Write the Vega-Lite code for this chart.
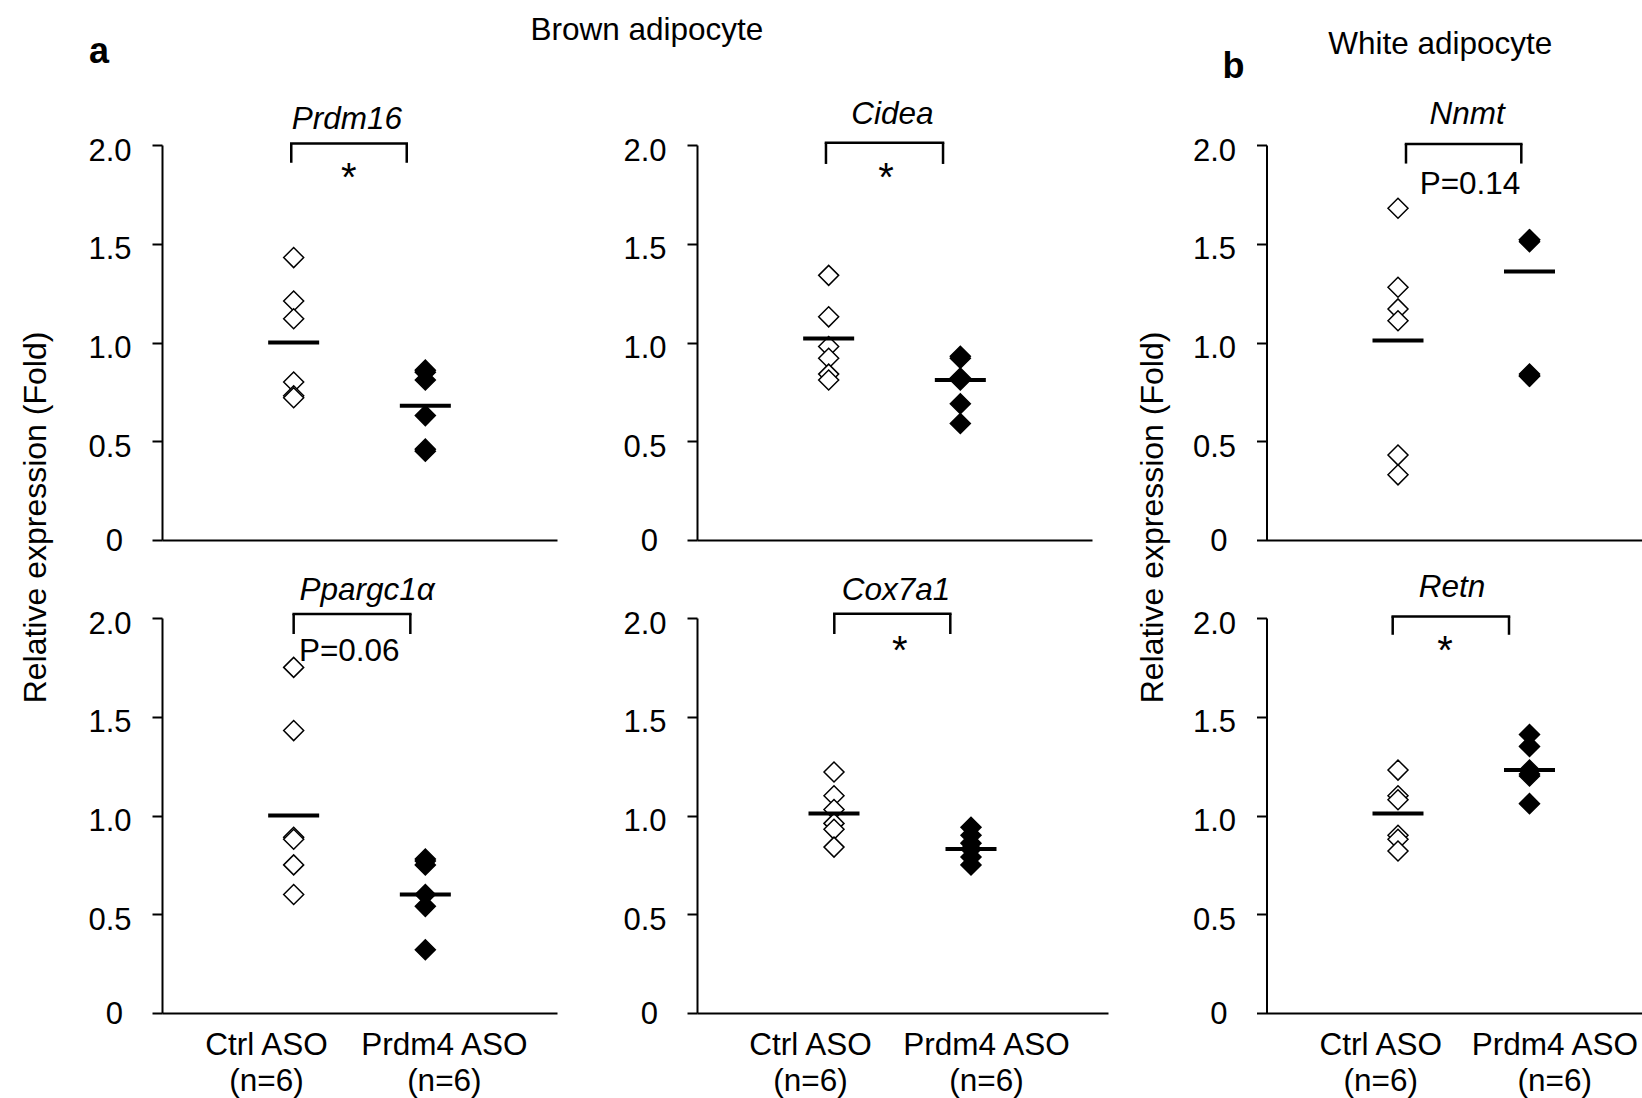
{
  "$schema": "https://vega.github.io/schema/vega-lite/v6.json",
  "background": "white",
  "padding": {"left": 18, "top": 14, "right": 0, "bottom": 0},
  "datasets": {
    "points": [
      {"gene": "Prdm16", "group": "Ctrl ASO", "value": 1.43},
      {"gene": "Prdm16", "group": "Ctrl ASO", "value": 1.21},
      {"gene": "Prdm16", "group": "Ctrl ASO", "value": 1.12},
      {"gene": "Prdm16", "group": "Ctrl ASO", "value": 0.80},
      {"gene": "Prdm16", "group": "Ctrl ASO", "value": 0.73},
      {"gene": "Prdm16", "group": "Ctrl ASO", "value": 0.72},
      {"gene": "Prdm16", "group": "Prdm4 ASO", "value": 0.86},
      {"gene": "Prdm16", "group": "Prdm4 ASO", "value": 0.85},
      {"gene": "Prdm16", "group": "Prdm4 ASO", "value": 0.81},
      {"gene": "Prdm16", "group": "Prdm4 ASO", "value": 0.63},
      {"gene": "Prdm16", "group": "Prdm4 ASO", "value": 0.46},
      {"gene": "Prdm16", "group": "Prdm4 ASO", "value": 0.45},
      {"gene": "Cidea", "group": "Ctrl ASO", "value": 1.34},
      {"gene": "Cidea", "group": "Ctrl ASO", "value": 1.13},
      {"gene": "Cidea", "group": "Ctrl ASO", "value": 0.98},
      {"gene": "Cidea", "group": "Ctrl ASO", "value": 0.92},
      {"gene": "Cidea", "group": "Ctrl ASO", "value": 0.84},
      {"gene": "Cidea", "group": "Ctrl ASO", "value": 0.81},
      {"gene": "Cidea", "group": "Prdm4 ASO", "value": 0.93},
      {"gene": "Cidea", "group": "Prdm4 ASO", "value": 0.92},
      {"gene": "Cidea", "group": "Prdm4 ASO", "value": 0.82},
      {"gene": "Cidea", "group": "Prdm4 ASO", "value": 0.81},
      {"gene": "Cidea", "group": "Prdm4 ASO", "value": 0.69},
      {"gene": "Cidea", "group": "Prdm4 ASO", "value": 0.59},
      {"gene": "Nnmt", "group": "Ctrl ASO", "value": 1.68},
      {"gene": "Nnmt", "group": "Ctrl ASO", "value": 1.28},
      {"gene": "Nnmt", "group": "Ctrl ASO", "value": 1.17},
      {"gene": "Nnmt", "group": "Ctrl ASO", "value": 1.11},
      {"gene": "Nnmt", "group": "Ctrl ASO", "value": 0.43},
      {"gene": "Nnmt", "group": "Ctrl ASO", "value": 0.33},
      {"gene": "Nnmt", "group": "Prdm4 ASO", "value": 1.52},
      {"gene": "Nnmt", "group": "Prdm4 ASO", "value": 1.52},
      {"gene": "Nnmt", "group": "Prdm4 ASO", "value": 1.51},
      {"gene": "Nnmt", "group": "Prdm4 ASO", "value": 0.84},
      {"gene": "Nnmt", "group": "Prdm4 ASO", "value": 0.83},
      {"gene": "Nnmt", "group": "Prdm4 ASO", "value": 0.83},
      {"gene": "Ppargc1a", "group": "Ctrl ASO", "value": 1.75},
      {"gene": "Ppargc1a", "group": "Ctrl ASO", "value": 1.43},
      {"gene": "Ppargc1a", "group": "Ctrl ASO", "value": 0.89},
      {"gene": "Ppargc1a", "group": "Ctrl ASO", "value": 0.88},
      {"gene": "Ppargc1a", "group": "Ctrl ASO", "value": 0.75},
      {"gene": "Ppargc1a", "group": "Ctrl ASO", "value": 0.60},
      {"gene": "Ppargc1a", "group": "Prdm4 ASO", "value": 0.78},
      {"gene": "Ppargc1a", "group": "Prdm4 ASO", "value": 0.77},
      {"gene": "Ppargc1a", "group": "Prdm4 ASO", "value": 0.75},
      {"gene": "Ppargc1a", "group": "Prdm4 ASO", "value": 0.60},
      {"gene": "Ppargc1a", "group": "Prdm4 ASO", "value": 0.54},
      {"gene": "Ppargc1a", "group": "Prdm4 ASO", "value": 0.32},
      {"gene": "Cox7a1", "group": "Ctrl ASO", "value": 1.22},
      {"gene": "Cox7a1", "group": "Ctrl ASO", "value": 1.10},
      {"gene": "Cox7a1", "group": "Ctrl ASO", "value": 1.03},
      {"gene": "Cox7a1", "group": "Ctrl ASO", "value": 0.96},
      {"gene": "Cox7a1", "group": "Ctrl ASO", "value": 0.93},
      {"gene": "Cox7a1", "group": "Ctrl ASO", "value": 0.84},
      {"gene": "Cox7a1", "group": "Prdm4 ASO", "value": 0.94},
      {"gene": "Cox7a1", "group": "Prdm4 ASO", "value": 0.90},
      {"gene": "Cox7a1", "group": "Prdm4 ASO", "value": 0.86},
      {"gene": "Cox7a1", "group": "Prdm4 ASO", "value": 0.83},
      {"gene": "Cox7a1", "group": "Prdm4 ASO", "value": 0.79},
      {"gene": "Cox7a1", "group": "Prdm4 ASO", "value": 0.75},
      {"gene": "Retn", "group": "Ctrl ASO", "value": 1.23},
      {"gene": "Retn", "group": "Ctrl ASO", "value": 1.10},
      {"gene": "Retn", "group": "Ctrl ASO", "value": 1.08},
      {"gene": "Retn", "group": "Ctrl ASO", "value": 0.90},
      {"gene": "Retn", "group": "Ctrl ASO", "value": 0.88},
      {"gene": "Retn", "group": "Ctrl ASO", "value": 0.82},
      {"gene": "Retn", "group": "Prdm4 ASO", "value": 1.41},
      {"gene": "Retn", "group": "Prdm4 ASO", "value": 1.35},
      {"gene": "Retn", "group": "Prdm4 ASO", "value": 1.23},
      {"gene": "Retn", "group": "Prdm4 ASO", "value": 1.21},
      {"gene": "Retn", "group": "Prdm4 ASO", "value": 1.20},
      {"gene": "Retn", "group": "Prdm4 ASO", "value": 1.06}
    ],
    "means": [
      {"gene": "Prdm16", "group": "Ctrl ASO", "mean": 1.00},
      {"gene": "Prdm16", "group": "Prdm4 ASO", "mean": 0.68},
      {"gene": "Cidea", "group": "Ctrl ASO", "mean": 1.02},
      {"gene": "Cidea", "group": "Prdm4 ASO", "mean": 0.81},
      {"gene": "Nnmt", "group": "Ctrl ASO", "mean": 1.01},
      {"gene": "Nnmt", "group": "Prdm4 ASO", "mean": 1.36},
      {"gene": "Ppargc1a", "group": "Ctrl ASO", "mean": 1.00},
      {"gene": "Ppargc1a", "group": "Prdm4 ASO", "mean": 0.60},
      {"gene": "Cox7a1", "group": "Ctrl ASO", "mean": 1.01},
      {"gene": "Cox7a1", "group": "Prdm4 ASO", "mean": 0.83},
      {"gene": "Retn", "group": "Ctrl ASO", "mean": 1.01},
      {"gene": "Retn", "group": "Prdm4 ASO", "mean": 1.23}
    ],
    "sig": [
      {"gene": "Prdm16", "label": "*"},
      {"gene": "Cidea", "label": "*"},
      {"gene": "Nnmt", "label": "P=0.14"},
      {"gene": "Ppargc1a", "label": "P=0.06"},
      {"gene": "Cox7a1", "label": "*"},
      {"gene": "Retn", "label": "*"}
    ]
  },
  "columns": 3,
  "spacing": {"row": 78, "column": 140},
  "bounds": "flush",
  "concat": [
    {
      "width": 395, "height": 395,
      "layer": [
        {"data": {"name": "points"}, "transform": [{"filter": "datum.gene === 'Prdm16'"}],
         "mark": {"type": "point", "shape": "diamond", "size": 400, "filled": true, "stroke": "black", "strokeWidth": 1.5, "opacity": 1},
         "encoding": {
           "x": {"field": "group", "type": "nominal", "scale": {"type": "point", "domain": ["Ctrl ASO", "Prdm4 ASO"], "padding": 1},
                 "axis": {"title": "Prdm16", "labels": false, "ticks": false, "tickSize": 0, "titleX": 129.3, "titleY": -411.5, "titleAlign": "left", "titleBaseline": "alphabetic", "titleAngle": 0, "titleFontSize": 31.5, "titleFontStyle": "italic"}},
           "y": {"field": "value", "type": "quantitative", "scale": {"domain": [0, 2], "nice": false},
                 "axis": {"values": [0, 0.5, 1, 1.5, 2], "labelExpr": "datum.value == 0 ? '0' : format(datum.value, '.1f')", "tickSize": 10,
                          "labelPadding": {"condition": {"test": "datum.value == 0", "value": 29.5}, "value": 21},
                          "labelOffset": {"condition": {"test": "datum.value == 0", "value": 10}, "value": 15},
                          "labelBaseline": "alphabetic",
                          "title": "a", "titleX": -73.5, "titleY": -82.6, "titleAngle": 0, "titleAlign": "left", "titleBaseline": "alphabetic", "titleFontSize": 36, "titleFontWeight": "bold"}},
           "fill": {"field": "group", "type": "nominal", "scale": {"domain": ["Ctrl ASO", "Prdm4 ASO"], "range": ["white", "black"]}, "legend": null}
         }},
        {"data": {"name": "means"}, "transform": [{"filter": "datum.gene === 'Prdm16'"}],
         "mark": {"type": "tick", "color": "black", "size": 51, "thickness": 4, "opacity": 1},
         "encoding": {"x": {"field": "group", "type": "nominal"}, "y": {"field": "mean", "type": "quantitative"}}},
        {"data": {"name": "sig"}, "transform": [{"filter": "datum.gene === 'Prdm16'"}],
         "mark": {"type": "rule", "color": "black", "strokeWidth": 2.5, "strokeCap": "square", "xOffset": -2.4, "x2Offset": -18.6},
         "encoding": {"x": {"datum": "Ctrl ASO", "type": "nominal"}, "x2": {"datum": "Prdm4 ASO"}, "y": {"datum": 2.007, "type": "quantitative"}}},
        {"data": {"name": "sig"}, "transform": [{"filter": "datum.gene === 'Prdm16'"}],
         "mark": {"type": "rule", "color": "black", "strokeWidth": 2.5, "xOffset": -2.4},
         "encoding": {"x": {"datum": "Ctrl ASO", "type": "nominal"}, "y": {"datum": 2.007, "type": "quantitative"}, "y2": {"datum": 1.91}}},
        {"data": {"name": "sig"}, "transform": [{"filter": "datum.gene === 'Prdm16'"}],
         "mark": {"type": "rule", "color": "black", "strokeWidth": 2.5, "xOffset": -18.6},
         "encoding": {"x": {"datum": "Prdm4 ASO", "type": "nominal"}, "y": {"datum": 2.007, "type": "quantitative"}, "y2": {"datum": 1.91}}},
        {"data": {"name": "sig"}, "transform": [{"filter": "datum.gene === 'Prdm16'"}],
         "mark": {"type": "text", "dx": 55, "align": "center", "baseline": "alphabetic", "fontSize": 40, "color": "black"},
         "encoding": {"x": {"datum": "Ctrl ASO", "type": "nominal"}, "y": {"datum": 1.765, "type": "quantitative"}, "text": {"field": "label"}}}
      ]
    },
    {
      "width": 395, "height": 395,
      "layer": [
        {"data": {"name": "points"}, "transform": [{"filter": "datum.gene === 'Cidea'"}],
         "mark": {"type": "point", "shape": "diamond", "size": 400, "filled": true, "stroke": "black", "strokeWidth": 1.5, "opacity": 1},
         "encoding": {
           "x": {"field": "group", "type": "nominal", "scale": {"type": "point", "domain": ["Ctrl ASO", "Prdm4 ASO"], "padding": 1},
                 "axis": {"title": "Cidea", "labels": false, "ticks": false, "tickSize": 0, "titleX": 153.7, "titleY": -416.7, "titleAlign": "left", "titleBaseline": "alphabetic", "titleAngle": 0, "titleFontSize": 31.5, "titleFontStyle": "italic"}},
           "y": {"field": "value", "type": "quantitative", "scale": {"domain": [0, 2], "nice": false},
                 "axis": {"values": [0, 0.5, 1, 1.5, 2], "labelExpr": "datum.value == 0 ? '0' : format(datum.value, '.1f')", "tickSize": 10,
                          "labelPadding": {"condition": {"test": "datum.value == 0", "value": 29.5}, "value": 21},
                          "labelOffset": {"condition": {"test": "datum.value == 0", "value": 10}, "value": 15},
                          "labelBaseline": "alphabetic",
                          "title": "Brown adipocyte", "titleX": -167, "titleY": -105.5, "titleAngle": 0, "titleAlign": "left", "titleBaseline": "alphabetic", "titleFontSize": 31.5}},
           "fill": {"field": "group", "type": "nominal", "scale": {"domain": ["Ctrl ASO", "Prdm4 ASO"], "range": ["white", "black"]}, "legend": null}
         }},
        {"data": {"name": "means"}, "transform": [{"filter": "datum.gene === 'Cidea'"}],
         "mark": {"type": "tick", "color": "black", "size": 51, "thickness": 4, "opacity": 1},
         "encoding": {"x": {"field": "group", "type": "nominal"}, "y": {"field": "mean", "type": "quantitative"}}},
        {"data": {"name": "sig"}, "transform": [{"filter": "datum.gene === 'Cidea'"}],
         "mark": {"type": "rule", "color": "black", "strokeWidth": 2.5, "strokeCap": "square", "xOffset": -2.7, "x2Offset": -17.3},
         "encoding": {"x": {"datum": "Ctrl ASO", "type": "nominal"}, "x2": {"datum": "Prdm4 ASO"}, "y": {"datum": 2.012, "type": "quantitative"}}},
        {"data": {"name": "sig"}, "transform": [{"filter": "datum.gene === 'Cidea'"}],
         "mark": {"type": "rule", "color": "black", "strokeWidth": 2.5, "xOffset": -2.7},
         "encoding": {"x": {"datum": "Ctrl ASO", "type": "nominal"}, "y": {"datum": 2.012, "type": "quantitative"}, "y2": {"datum": 1.904}}},
        {"data": {"name": "sig"}, "transform": [{"filter": "datum.gene === 'Cidea'"}],
         "mark": {"type": "rule", "color": "black", "strokeWidth": 2.5, "xOffset": -17.3},
         "encoding": {"x": {"datum": "Prdm4 ASO", "type": "nominal"}, "y": {"datum": 2.012, "type": "quantitative"}, "y2": {"datum": 1.904}}},
        {"data": {"name": "sig"}, "transform": [{"filter": "datum.gene === 'Cidea'"}],
         "mark": {"type": "text", "dx": 57.3, "align": "center", "baseline": "alphabetic", "fontSize": 40, "color": "black"},
         "encoding": {"x": {"datum": "Ctrl ASO", "type": "nominal"}, "y": {"datum": 1.765, "type": "quantitative"}, "text": {"field": "label"}}}
      ]
    },
    {
      "width": 396, "height": 395,
      "layer": [
        {"data": {"name": "points"}, "transform": [{"filter": "datum.gene === 'Nnmt'"}],
         "mark": {"type": "point", "shape": "diamond", "size": 400, "filled": true, "stroke": "black", "strokeWidth": 1.5, "opacity": 1},
         "encoding": {
           "x": {"field": "group", "type": "nominal", "scale": {"type": "point", "domain": ["Ctrl ASO", "Prdm4 ASO"], "range": [18.5, 396], "padding": 0.93536, "align": 0.53455},
                 "axis": {"title": "Nnmt", "labels": false, "ticks": false, "tickSize": 0, "titleX": 181, "titleY": -416.6, "titleAlign": "left", "titleBaseline": "alphabetic", "titleAngle": 0, "titleFontSize": 31.5, "titleFontStyle": "italic"}},
           "y": {"field": "value", "type": "quantitative", "scale": {"domain": [0, 2], "nice": false},
                 "axis": {"offset": -18.5, "values": [0, 0.5, 1, 1.5, 2], "labelExpr": "datum.value == 0 ? '0' : format(datum.value, '.1f')", "tickSize": 10,
                          "labelPadding": {"condition": {"test": "datum.value == 0", "value": 29.5}, "value": 21},
                          "labelOffset": {"condition": {"test": "datum.value == 0", "value": 10}, "value": 15},
                          "labelBaseline": "alphabetic",
                          "title": "White adipocyte", "titleX": 61.2, "titleY": -91.1, "titleAngle": 0, "titleAlign": "left", "titleBaseline": "alphabetic", "titleFontSize": 31.5}},
           "fill": {"field": "group", "type": "nominal", "scale": {"domain": ["Ctrl ASO", "Prdm4 ASO"], "range": ["white", "black"]}, "legend": null}
         }},
        {"data": {"name": "means"}, "transform": [{"filter": "datum.gene === 'Nnmt'"}],
         "mark": {"type": "tick", "color": "black", "size": 51, "thickness": 4, "opacity": 1},
         "encoding": {"x": {"field": "group", "type": "nominal"}, "y": {"field": "mean", "type": "quantitative"}}},
        {"data": {"name": "sig"}, "transform": [{"filter": "datum.gene === 'Nnmt'"}],
         "mark": {"type": "rule", "color": "black", "strokeWidth": 2.5, "strokeCap": "square", "xOffset": 8, "x2Offset": -8.2},
         "encoding": {"x": {"datum": "Ctrl ASO", "type": "nominal"}, "x2": {"datum": "Prdm4 ASO"}, "y": {"datum": 2.005, "type": "quantitative"}}},
        {"data": {"name": "sig"}, "transform": [{"filter": "datum.gene === 'Nnmt'"}],
         "mark": {"type": "rule", "color": "black", "strokeWidth": 2.5, "xOffset": 8},
         "encoding": {"x": {"datum": "Ctrl ASO", "type": "nominal"}, "y": {"datum": 2.005, "type": "quantitative"}, "y2": {"datum": 1.906}}},
        {"data": {"name": "sig"}, "transform": [{"filter": "datum.gene === 'Nnmt'"}],
         "mark": {"type": "rule", "color": "black", "strokeWidth": 2.5, "xOffset": -8.2},
         "encoding": {"x": {"datum": "Prdm4 ASO", "type": "nominal"}, "y": {"datum": 2.005, "type": "quantitative"}, "y2": {"datum": 1.906}}},
        {"data": {"name": "sig"}, "transform": [{"filter": "datum.gene === 'Nnmt'"}],
         "mark": {"type": "text", "dx": 72, "align": "center", "baseline": "alphabetic", "fontSize": 31.5, "color": "black"},
         "encoding": {"x": {"datum": "Ctrl ASO", "type": "nominal"}, "y": {"datum": 1.753, "type": "quantitative"}, "text": {"field": "label"}}}
      ]
    },
    {
      "width": 395, "height": 395,
      "layer": [
        {"data": {"name": "points"}, "transform": [{"filter": "datum.gene === 'Ppargc1a'"}],
         "mark": {"type": "point", "shape": "diamond", "size": 400, "filled": true, "stroke": "black", "strokeWidth": 1.5, "opacity": 1},
         "encoding": {
           "x": {"field": "group", "type": "nominal", "scale": {"type": "point", "domain": ["Ctrl ASO", "Prdm4 ASO"], "padding": 1},
                 "axis": {"ticks": false, "tickSize": 0, "labelAngle": 0, "labelLimit": 0, "labelPadding": 41, "labelBaseline": "alphabetic", "labelLineHeight": 36.7, "labelFontSize": 31.5,
                          "labelExpr": "[datum.label, '(n=6)']",
                          "labelOffset": {"condition": {"test": "datum.value === 'Ctrl ASO'", "value": -27.7}, "value": 18.5},
                          "title": "Ppargc1α", "titleX": 137, "titleY": -413.3, "titleAlign": "left", "titleBaseline": "alphabetic", "titleAngle": 0, "titleFontSize": 31.5, "titleFontStyle": "italic"}},
           "y": {"field": "value", "type": "quantitative", "scale": {"domain": [0, 2], "nice": false},
                 "axis": {"values": [0, 0.5, 1, 1.5, 2], "labelExpr": "datum.value == 0 ? '0' : format(datum.value, '.1f')", "tickSize": 10,
                          "labelPadding": {"condition": {"test": "datum.value == 0", "value": 29.5}, "value": 21},
                          "labelOffset": {"condition": {"test": "datum.value == 0", "value": 10}, "value": 15},
                          "labelBaseline": "alphabetic",
                          "title": "Relative expression (Fold)", "titleX": -117, "titleY": -101, "titleAngle": 270, "titleAlign": "center", "titleBaseline": "alphabetic", "titleFontSize": 32}},
           "fill": {"field": "group", "type": "nominal", "scale": {"domain": ["Ctrl ASO", "Prdm4 ASO"], "range": ["white", "black"]}, "legend": null}
         }},
        {"data": {"name": "means"}, "transform": [{"filter": "datum.gene === 'Ppargc1a'"}],
         "mark": {"type": "tick", "color": "black", "size": 51, "thickness": 4, "opacity": 1},
         "encoding": {"x": {"field": "group", "type": "nominal"}, "y": {"field": "mean", "type": "quantitative"}}},
        {"data": {"name": "sig"}, "transform": [{"filter": "datum.gene === 'Ppargc1a'"}],
         "mark": {"type": "rule", "color": "black", "strokeWidth": 2.5, "strokeCap": "square", "xOffset": 0, "x2Offset": -15},
         "encoding": {"x": {"datum": "Ctrl ASO", "type": "nominal"}, "x2": {"datum": "Prdm4 ASO"}, "y": {"datum": 2.02, "type": "quantitative"}}},
        {"data": {"name": "sig"}, "transform": [{"filter": "datum.gene === 'Ppargc1a'"}],
         "mark": {"type": "rule", "color": "black", "strokeWidth": 2.5, "xOffset": 0},
         "encoding": {"x": {"datum": "Ctrl ASO", "type": "nominal"}, "y": {"datum": 2.02, "type": "quantitative"}, "y2": {"datum": 1.919}}},
        {"data": {"name": "sig"}, "transform": [{"filter": "datum.gene === 'Ppargc1a'"}],
         "mark": {"type": "rule", "color": "black", "strokeWidth": 2.5, "xOffset": -15},
         "encoding": {"x": {"datum": "Prdm4 ASO", "type": "nominal"}, "y": {"datum": 2.02, "type": "quantitative"}, "y2": {"datum": 1.919}}},
        {"data": {"name": "sig"}, "transform": [{"filter": "datum.gene === 'Ppargc1a'"}],
         "mark": {"type": "text", "dx": 55.6, "align": "center", "baseline": "alphabetic", "fontSize": 31.5, "color": "black"},
         "encoding": {"x": {"datum": "Ctrl ASO", "type": "nominal"}, "y": {"datum": 1.784, "type": "quantitative"}, "text": {"field": "label"}}}
      ]
    },
    {
      "width": 411, "height": 395,
      "layer": [
        {"data": {"name": "points"}, "transform": [{"filter": "datum.gene === 'Cox7a1'"}],
         "mark": {"type": "point", "shape": "diamond", "size": 400, "filled": true, "stroke": "black", "strokeWidth": 1.5, "opacity": 1},
         "encoding": {
           "x": {"field": "group", "type": "nominal", "scale": {"type": "point", "domain": ["Ctrl ASO", "Prdm4 ASO"], "padding": 1},
                 "axis": {"ticks": false, "tickSize": 0, "labelAngle": 0, "labelLimit": 0, "labelPadding": 41, "labelBaseline": "alphabetic", "labelLineHeight": 36.7, "labelFontSize": 31.5,
                          "labelExpr": "[datum.label, '(n=6)']",
                          "labelOffset": {"condition": {"test": "datum.value === 'Ctrl ASO'", "value": -24}, "value": 15},
                          "title": "Cox7a1", "titleX": 144.3, "titleY": -414, "titleAlign": "left", "titleBaseline": "alphabetic", "titleAngle": 0, "titleFontSize": 31.5, "titleFontStyle": "italic"}},
           "y": {"field": "value", "type": "quantitative", "scale": {"domain": [0, 2], "nice": false},
                 "axis": {"values": [0, 0.5, 1, 1.5, 2], "labelExpr": "datum.value == 0 ? '0' : format(datum.value, '.1f')", "tickSize": 10,
                          "labelPadding": {"condition": {"test": "datum.value == 0", "value": 29.5}, "value": 21},
                          "labelOffset": {"condition": {"test": "datum.value == 0", "value": 10}, "value": 15},
                          "labelBaseline": "alphabetic",
                          "title": "b", "titleX": 525, "titleY": -540.2, "titleAngle": 0, "titleAlign": "left", "titleBaseline": "alphabetic", "titleFontSize": 36, "titleFontWeight": "bold"}},
           "fill": {"field": "group", "type": "nominal", "scale": {"domain": ["Ctrl ASO", "Prdm4 ASO"], "range": ["white", "black"]}, "legend": null}
         }},
        {"data": {"name": "means"}, "transform": [{"filter": "datum.gene === 'Cox7a1'"}],
         "mark": {"type": "tick", "color": "black", "size": 51, "thickness": 4, "opacity": 1},
         "encoding": {"x": {"field": "group", "type": "nominal"}, "y": {"field": "mean", "type": "quantitative"}}},
        {"data": {"name": "sig"}, "transform": [{"filter": "datum.gene === 'Cox7a1'"}],
         "mark": {"type": "rule", "color": "black", "strokeWidth": 2.5, "strokeCap": "square", "xOffset": 0.3, "x2Offset": -20.7},
         "encoding": {"x": {"datum": "Ctrl ASO", "type": "nominal"}, "x2": {"datum": "Prdm4 ASO"}, "y": {"datum": 2.022, "type": "quantitative"}}},
        {"data": {"name": "sig"}, "transform": [{"filter": "datum.gene === 'Cox7a1'"}],
         "mark": {"type": "rule", "color": "black", "strokeWidth": 2.5, "xOffset": 0.3},
         "encoding": {"x": {"datum": "Ctrl ASO", "type": "nominal"}, "y": {"datum": 2.022, "type": "quantitative"}, "y2": {"datum": 1.919}}},
        {"data": {"name": "sig"}, "transform": [{"filter": "datum.gene === 'Cox7a1'"}],
         "mark": {"type": "rule", "color": "black", "strokeWidth": 2.5, "xOffset": -20.7},
         "encoding": {"x": {"datum": "Prdm4 ASO", "type": "nominal"}, "y": {"datum": 2.022, "type": "quantitative"}, "y2": {"datum": 1.919}}},
        {"data": {"name": "sig"}, "transform": [{"filter": "datum.gene === 'Cox7a1'"}],
         "mark": {"type": "text", "dx": 65.7, "align": "center", "baseline": "alphabetic", "fontSize": 40, "color": "black"},
         "encoding": {"x": {"datum": "Ctrl ASO", "type": "nominal"}, "y": {"datum": 1.765, "type": "quantitative"}, "text": {"field": "label"}}}
      ]
    },
    {
      "width": 396, "height": 395,
      "layer": [
        {"data": {"name": "points"}, "transform": [{"filter": "datum.gene === 'Retn'"}],
         "mark": {"type": "point", "shape": "diamond", "size": 400, "filled": true, "stroke": "black", "strokeWidth": 1.5, "opacity": 1},
         "encoding": {
           "x": {"field": "group", "type": "nominal", "scale": {"type": "point", "domain": ["Ctrl ASO", "Prdm4 ASO"], "range": [18.5, 396], "padding": 0.93536, "align": 0.53455},
                 "axis": {"ticks": false, "tickSize": 0, "labelAngle": 0, "labelLimit": 0, "labelPadding": 41, "labelBaseline": "alphabetic", "labelLineHeight": 36.7, "labelFontSize": 31.5,
                          "labelExpr": "[datum.label, '(n=6)']",
                          "labelOffset": {"condition": {"test": "datum.value === 'Ctrl ASO'", "value": -17.7}, "value": 24.8},
                          "title": "Retn", "titleX": 170.3, "titleY": -416.6, "titleAlign": "left", "titleBaseline": "alphabetic", "titleAngle": 0, "titleFontSize": 31.5, "titleFontStyle": "italic"}},
           "y": {"field": "value", "type": "quantitative", "scale": {"domain": [0, 2], "nice": false},
                 "axis": {"offset": -18.5, "values": [0, 0.5, 1, 1.5, 2], "labelExpr": "datum.value == 0 ? '0' : format(datum.value, '.1f')", "tickSize": 10,
                          "labelPadding": {"condition": {"test": "datum.value == 0", "value": 29.5}, "value": 21},
                          "labelOffset": {"condition": {"test": "datum.value == 0", "value": 10}, "value": 15},
                          "labelBaseline": "alphabetic",
                          "title": "Relative expression (Fold)", "titleX": -104.5, "titleY": -101, "titleAngle": 270, "titleAlign": "center", "titleBaseline": "alphabetic", "titleFontSize": 32}},
           "fill": {"field": "group", "type": "nominal", "scale": {"domain": ["Ctrl ASO", "Prdm4 ASO"], "range": ["white", "black"]}, "legend": null}
         }},
        {"data": {"name": "means"}, "transform": [{"filter": "datum.gene === 'Retn'"}],
         "mark": {"type": "tick", "color": "black", "size": 51, "thickness": 4, "opacity": 1},
         "encoding": {"x": {"field": "group", "type": "nominal"}, "y": {"field": "mean", "type": "quantitative"}}},
        {"data": {"name": "sig"}, "transform": [{"filter": "datum.gene === 'Retn'"}],
         "mark": {"type": "rule", "color": "black", "strokeWidth": 2.5, "strokeCap": "square", "xOffset": -5.3, "x2Offset": -20.5},
         "encoding": {"x": {"datum": "Ctrl ASO", "type": "nominal"}, "x2": {"datum": "Prdm4 ASO"}, "y": {"datum": 2.008, "type": "quantitative"}}},
        {"data": {"name": "sig"}, "transform": [{"filter": "datum.gene === 'Retn'"}],
         "mark": {"type": "rule", "color": "black", "strokeWidth": 2.5, "xOffset": -5.3},
         "encoding": {"x": {"datum": "Ctrl ASO", "type": "nominal"}, "y": {"datum": 2.008, "type": "quantitative"}, "y2": {"datum": 1.915}}},
        {"data": {"name": "sig"}, "transform": [{"filter": "datum.gene === 'Retn'"}],
         "mark": {"type": "rule", "color": "black", "strokeWidth": 2.5, "xOffset": -20.5},
         "encoding": {"x": {"datum": "Prdm4 ASO", "type": "nominal"}, "y": {"datum": 2.008, "type": "quantitative"}, "y2": {"datum": 1.915}}},
        {"data": {"name": "sig"}, "transform": [{"filter": "datum.gene === 'Retn'"}],
         "mark": {"type": "text", "dx": 47, "align": "center", "baseline": "alphabetic", "fontSize": 40, "color": "black"},
         "encoding": {"x": {"datum": "Ctrl ASO", "type": "nominal"}, "y": {"datum": 1.765, "type": "quantitative"}, "text": {"field": "label"}}}
      ]
    }
  ],
  "config": {
    "font": "Liberation Sans",
    "view": {"stroke": null},
    "axis": {"grid": false, "domainColor": "black", "domainWidth": 2, "tickColor": "black", "tickWidth": 2, "labelColor": "black", "labelFontSize": 31, "labelFont": "Liberation Sans", "titleFont": "Liberation Sans", "titleColor": "black", "titleFontWeight": "normal"}
  }
}
